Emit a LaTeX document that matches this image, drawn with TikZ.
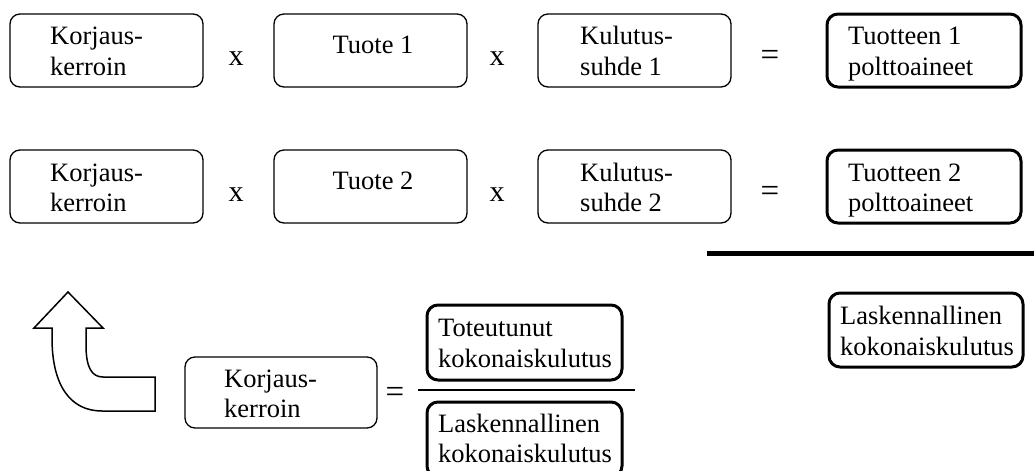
\documentclass[tikz,border=0pt]{standalone}
\usepackage{fontspec}
\setmainfont{Liberation Serif}
\usetikzlibrary{fit}
\begin{document}
\begin{tikzpicture}[x=1pt,y=-1pt,
  thinbox/.style={draw=black, line width=1.3pt, rounded corners=10pt, inner sep=0pt},
  thickbox/.style={draw=black, line width=3pt, rounded corners=11pt, inner sep=0pt},
  txt/.style={anchor=base west, inner sep=0pt, font=\fontsize{26.5}{30}\selectfont},
  ctxt/.style={anchor=base, inner sep=0pt, font=\fontsize{26.5}{30}\selectfont},
  sym/.style={anchor=base, inner sep=0pt, font=\fontsize{30}{32}\selectfont},
  eqsym/.style={anchor=base, inner sep=0pt, font=\fontsize{33}{35}\selectfont}]
\useasboundingbox (0,0) rectangle (1034,471);
% row 1
\node[thinbox, fit={(10,14) (203,87)}] (a1) {};
\node[thinbox, fit={(274,14) (467,87)}] (b1) {};
\node[thinbox, fit={(538,14) (731,87)}] (c1) {};
\node[thickbox, fit={(827,14) (1021,87)}] (d1) {};
\node[txt] (a1t1) at (50,45) {Korjaus-};
\node[txt] (a1t2) at (50,75) {kerroin};
\node[ctxt] (b1t) at (373,53) {Tuote 1};
\node[txt] (c1t1) at (580,45) {Kulutus-};
\node[txt] (c1t2) at (580,75) {suhde 1};
\node[txt] (d1t1) at (848,45) {Tuotteen 1};
\node[txt] (d1t2) at (848,75) {polttoaineet};
\node[sym] (x11) at (236,65) {x};
\node[sym] (x12) at (497,65) {x};
\node[eqsym] (eq1) at (770,65) {=};
% row 2
\node[thinbox, fit={(10,150) (203,223)}] (a2) {};
\node[thinbox, fit={(274,150) (467,223)}] (b2) {};
\node[thinbox, fit={(538,150) (731,223)}] (c2) {};
\node[thickbox, fit={(827,150) (1021,223)}] (d2) {};
\node[txt] (a2t1) at (50,181) {Korjaus-};
\node[txt] (a2t2) at (50,211) {kerroin};
\node[ctxt] (b2t) at (373,189) {Tuote 2};
\node[txt] (c2t1) at (580,181) {Kulutus-};
\node[txt] (c2t2) at (580,211) {suhde 2};
\node[txt] (d2t1) at (848,181) {Tuotteen 2};
\node[txt] (d2t2) at (848,211) {polttoaineet};
\node[sym] (x21) at (236,201) {x};
\node[sym] (x22) at (497,201) {x};
\node[eqsym] (eq2) at (770,201) {=};
% sum line
\coordinate (sumL) at (707,253);
\coordinate (sumR) at (1034,253);
\draw[line width=5pt] (sumL) -- (sumR);
% right total
\node[thickbox, fit={(829,293) (1023,367)}] (tot) {};
\node[txt] (tott1) at (840,324) {Laskennallinen};
\node[txt] (tott2) at (840,355) {kokonaiskulutus};
% bottom formula
\node[thinbox, fit={(185,357) (377,428)}] (kk) {};
\node[txt] (kkt1) at (224,387) {Korjaus-};
\node[txt] (kkt2) at (224,417) {kerroin};
\node[eqsym] (eq3) at (395,402) {=};
\coordinate (fracL) at (418,390);
\coordinate (fracR) at (635,390);
\draw[line width=1.3pt] (fracL) -- (fracR);
\node[thickbox, fit={(427,305) (622,380)}] (num) {};
\node[txt] (numt1) at (438,336) {Toteutunut};
\node[txt] (numt2) at (438,367) {kokonaiskulutus};
\node[thickbox, fit={(427,402) (622,477)}] (den) {};
\node[txt] (dent1) at (438,432) {Laskennallinen};
\node[txt] (dent2) at (438,462) {kokonaiskulutus};
% bent arrow
\draw[line width=1.5pt, line join=miter, fill=white]
  (86,328) -- (86,345) .. controls (86,368) and (92,377) .. (103,377)
  -- (155,377) -- (155,411) -- (102,411)
  .. controls (70,411) and (52,385) .. (52,338) -- (52,328)
  -- (34,328) -- (68,292) -- (103,328) -- cycle;
\end{tikzpicture}
\end{document}
